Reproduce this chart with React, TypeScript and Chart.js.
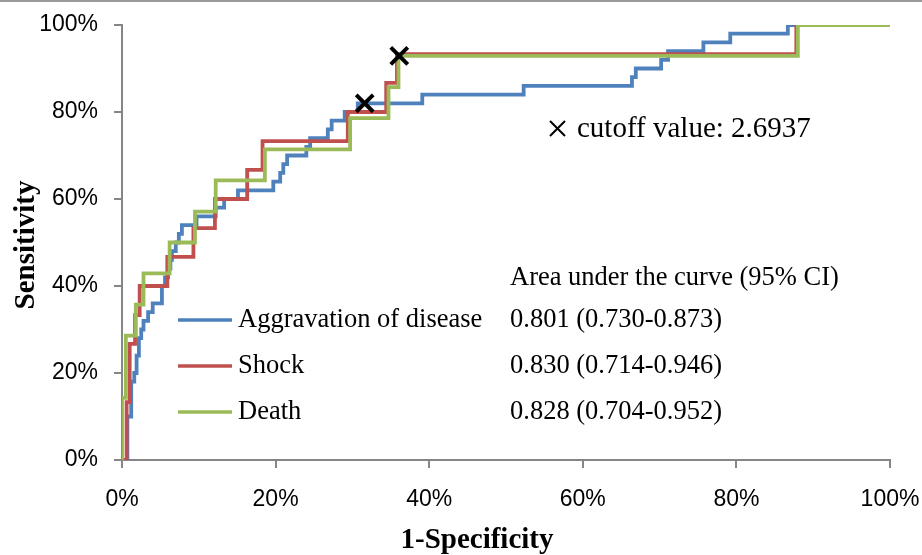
import React, { useEffect, useRef } from "react";
import { Chart, registerables } from "chart.js";

Chart.register(...registerables);

// ROC curve vertices: (1-Specificity %, Sensitivity %), drawn as horizontal-then-vertical steps
const aggFpr = [0, 0.7, 1.2, 1.6, 1.9, 2.2, 2.5, 2.8, 3.4, 4.0, 5.2, 5.6, 6.0, 6.3, 6.5, 7.0, 7.4, 7.8, 9.7, 12.2, 13.3, 15.1, 19.7, 20.6, 21.0, 21.5, 24.0, 24.5, 26.8, 27.3, 29.0, 30.7, 39.1, 52.3, 66.4, 66.9, 70.2, 71.1, 75.7, 79.2, 86.7, 100];
const aggTpr = [0, 10, 18, 20, 24, 28, 30, 32, 34, 36, 40, 42, 44, 46, 48, 50, 52, 54, 56, 58, 60, 62, 64, 66, 68, 70, 72, 74, 76, 78, 80, 82, 84, 86, 88, 90, 92, 94, 96, 98, 100, 100];

const shockFpr = [0, 0.6, 1.0, 1.7, 2.3, 5.9, 9.3, 12.1, 16.3, 18.3, 29.4, 34.4, 35.8, 87.8, 100];
const shockTpr = [0, 13.3, 26.7, 33.3, 40.0, 46.7, 53.3, 60.0, 66.7, 73.3, 80.0, 86.7, 93.3, 100, 100];

const deathFpr = [0, 0, 0.5, 1.8, 2.8, 6.2, 9.5, 12.2, 18.6, 29.7, 34.7, 36.0, 88.0, 100];
const deathTpr = [0, 14.3, 28.6, 35.7, 42.9, 50.0, 57.1, 64.3, 71.4, 78.6, 85.7, 92.9, 100, 100];

const cutoffFpr = [31.6, 36.1];
const cutoffTpr = [82.0, 92.9];

const seriesNames = ["Aggravation of disease", "Shock", "Death"];
const aucLabels = ["0.801 (0.730-0.873)", "0.830 (0.714-0.946)", "0.828 (0.704-0.952)"];
const aucTitle = "Area under the curve (95% CI)";
const cutoffLabel = "cutoff value: 2.6937";
const xTitle = "1-Specificity";
const yTitle = "Sensitivity";

const colors = ["#4F81BD", "#C0504D", "#9BBB59"];
const axisColor = "#868686";

const pts = (xs: number[], ys: number[]) => xs.map((x, i) => ({ x, y: ys[i] }));

const annotations = {
  id: "annotations",
  afterDraw(chart: any) {
    const ctx = chart.ctx as CanvasRenderingContext2D;
    ctx.save();
    // top border
    ctx.fillStyle = "#9a9a9a";
    ctx.fillRect(0, 0, 922, 2);

    ctx.fillStyle = "#000";
    // axis titles
    ctx.font = "bold 29px 'Liberation Serif'";
    ctx.textAlign = "center";
    ctx.textBaseline = "middle";
    ctx.fillText(xTitle, 477, 541);
    ctx.save();
    ctx.translate(27, 245);
    ctx.rotate(-Math.PI / 2);
    ctx.fillText(yTitle, 0, 0);
    ctx.restore();

    // legend
    const rows = [320, 366, 412];
    ctx.font = "26.5px 'Liberation Serif'";
    ctx.textAlign = "left";
    rows.forEach((y, i) => {
      ctx.strokeStyle = colors[i];
      ctx.lineWidth = 3.5;
      ctx.beginPath();
      ctx.moveTo(178, y);
      ctx.lineTo(232, y);
      ctx.stroke();
      ctx.fillStyle = "#000";
      ctx.fillText(seriesNames[i], 238, y);
      ctx.fillText(aucLabels[i], 510, y);
    });
    ctx.fillText(aucTitle, 510, 278);

    // cutoff legend
    ctx.strokeStyle = "#000";
    ctx.lineWidth = 2;
    ctx.beginPath();
    ctx.moveTo(550, 121);
    ctx.lineTo(565, 136);
    ctx.moveTo(565, 121);
    ctx.lineTo(550, 136);
    ctx.stroke();
    ctx.font = "29px 'Liberation Serif'";
    ctx.fillText(cutoffLabel, 577, 129);
    ctx.restore();
  },
};

export default function App() {
  const ref = useRef<HTMLCanvasElement>(null);
  useEffect(() => {
    const canvas = ref.current!;
    const lineDs = (label: string, xs: number[], ys: number[], color: string, order: number) => ({
      type: "line" as const,
      label,
      data: pts(xs, ys),
      borderColor: color,
      backgroundColor: color,
      borderWidth: 3.8,
      pointRadius: 0,
      stepped: "before" as const,
      fill: false,
      order,
    });
    const chart = new Chart(canvas, {
      type: "line",
      data: {
        datasets: [
          lineDs(seriesNames[0], aggFpr, aggTpr, colors[0], 4),
          lineDs(seriesNames[1], shockFpr, shockTpr, colors[1], 3),
          lineDs(seriesNames[2], deathFpr, deathTpr, colors[2], 2),
          {
            type: "scatter" as const,
            label: "cutoff",
            data: pts(cutoffFpr, cutoffTpr),
            pointStyle: "crossRot",
            pointRadius: 12,
            borderColor: "#000",
            backgroundColor: "#000",
            pointBorderWidth: 4,
            borderWidth: 4,
            showLine: false,
            order: 1,
          } as any,
        ],
      },
      options: {
        responsive: false,
        animation: false,
        layout: { padding: { top: 25, right: 32, left: 0, bottom: 0 } },
        plugins: { legend: { display: false }, tooltip: { enabled: false } },
        scales: {
          x: {
            type: "linear",
            min: 0,
            max: 100,
            afterFit: (s: any) => {
              s.height = 95;
              s.paddingLeft = 0;
              s.paddingRight = 0;
            },
            ticks: {
              stepSize: 20,
              callback: (v: any) => v + "%",
              color: "#000",
              font: { family: "'Liberation Sans'", size: 23 },
              padding: 18,
              maxRotation: 0,
            },
            grid: { drawOnChartArea: false, drawTicks: true, tickLength: 8, color: axisColor, lineWidth: 2 },
            border: { display: true, color: axisColor, width: 2 },
          },
          y: {
            type: "linear",
            min: 0,
            max: 100,
            afterFit: (s: any) => {
              s.width = 122;
              s.paddingTop = 0;
              s.paddingBottom = 0;
            },
            ticks: {
              stepSize: 20,
              callback: (v: any) => v + "%",
              color: "#000",
              font: { family: "'Liberation Sans'", size: 23 },
              padding: 16,
            },
            grid: { drawOnChartArea: false, drawTicks: true, tickLength: 8, color: axisColor, lineWidth: 2 },
            border: { display: true, color: axisColor, width: 2 },
          },
        },
      },
      plugins: [annotations],
    });
    return () => chart.destroy();
  }, []);
  return (
    <div style={{ position: "absolute", left: 0, top: 0, width: 922, height: 555, background: "#fff" }}>
      <canvas ref={ref} width={922} height={555} style={{ width: 922, height: 555 }} />
    </div>
  );
}
